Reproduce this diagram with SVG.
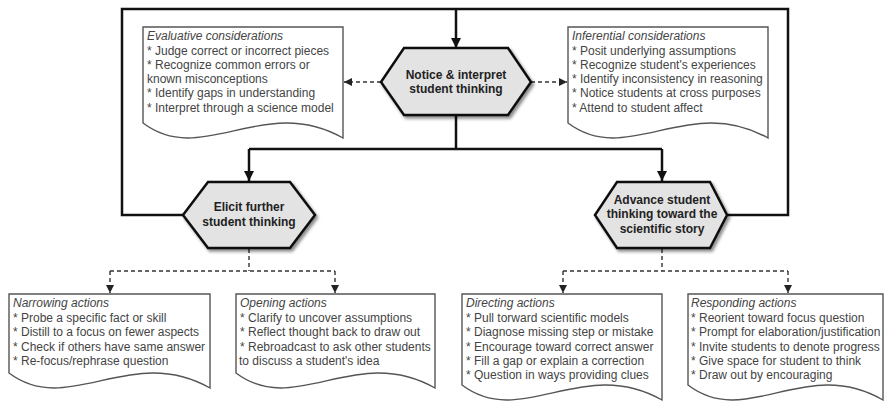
<svg xmlns="http://www.w3.org/2000/svg" width="884" height="401" viewBox="0 0 884 401">
<style>
.hex{fill:#e3e3e3;stroke:#111;stroke-width:2.5;stroke-linejoin:miter;filter:url(#sh)}
.ht{font-family:"Liberation Sans",Arial,sans-serif;font-size:12px;font-weight:bold;fill:#222;text-anchor:middle}
.doc{fill:#fff;stroke:#555;stroke-width:1.4}
.dt{font-family:"Liberation Sans",Arial,sans-serif;font-size:12px;fill:#444}
.dt .h{font-style:italic}
.solid{fill:none;stroke:#111;stroke-width:2.5}
.dash{fill:none;stroke:#333;stroke-width:1.4;stroke-dasharray:4 3}
</style>
<defs>
<filter id="sh" x="-20%" y="-20%" width="150%" height="150%"><feDropShadow dx="2" dy="2.5" stdDeviation="1.8" flood-color="#000" flood-opacity="0.45"/></filter>
<marker id="ah" viewBox="0 0 10 10" refX="10" refY="5" markerWidth="10" markerHeight="10" markerUnits="userSpaceOnUse" orient="auto"><path d="M0,0 L10,5 L0,10 Z" fill="#111"/></marker>
<marker id="ad" viewBox="0 0 10 10" refX="10" refY="5" markerWidth="9" markerHeight="8" markerUnits="userSpaceOnUse" orient="auto"><path d="M0,0 L10,5 L0,10 Z" fill="#222"/></marker>
</defs>
<rect width="884" height="401" fill="#fff"/>
<g id="connectors">
<path class="solid" d="M183,215 H122 V9 H788 V215 H727"/>
<path class="solid" d="M456,9 V48" marker-end="url(#ah)"/>
<path class="solid" d="M456,115 V149 M249,149 H662"/>
<path class="solid" d="M249,149 V181" marker-end="url(#ah)"/>
<path class="solid" d="M662,149 V181" marker-end="url(#ah)"/>
<path class="dash" d="M381,82 H344" marker-end="url(#ad)"/>
<path class="dash" d="M531,82 H567" marker-end="url(#ad)"/>
<path class="dash" d="M249,249 V271 M110,271 H335"/>
<path class="dash" d="M110,271 V293" marker-end="url(#ad)"/>
<path class="dash" d="M335,271 V293" marker-end="url(#ad)"/>
<path class="dash" d="M662,249 V271 M563,271 H788"/>
<path class="dash" d="M563,271 V293" marker-end="url(#ad)"/>
<path class="dash" d="M788,271 V293" marker-end="url(#ad)"/>
</g>
<g id="notice">
<polygon class="hex" points="404,48 508,48 531,82 508,115 404,115 381,82"/>
<text class="ht" x="456" y="78.5">Notice &amp; interpret</text>
<text class="ht" x="456" y="93">student thinking</text>
</g>
<g id="elicit">
<polygon class="hex" points="208,182 290,182 315,215 290,248 208,248 183,215"/>
<text class="ht" x="249" y="211">Elicit further</text>
<text class="ht" x="249" y="226">student thinking</text>
</g>
<g id="advance">
<polygon class="hex" points="617,182 710,182 727,215 710,248 617,248 595,215"/>
<text class="ht" x="662" y="204">Advance student</text>
<text class="ht" x="662" y="218">thinking toward the</text>
<text class="ht" x="662" y="233">scientific story</text>
</g>
<g id="evaluative">
<path class="doc" d="M143,27 H343 V138 C263,93 203,168 143,123 Z"/>
<text class="dt"><tspan class="h" x="147" y="40">Evaluative considerations</tspan><tspan x="147" y="55">* Judge correct or incorrect pieces</tspan><tspan x="147" y="69">* Recognize common errors or</tspan><tspan x="147" y="83">known misconceptions</tspan><tspan x="147" y="97">* Identify gaps in understanding</tspan><tspan x="147" y="112">* Interpret through a science model</tspan></text>
</g>
<g id="inferential">
<path class="doc" d="M568,27 H768 V138 C688,93 628,168 568,123 Z"/>
<text class="dt"><tspan class="h" x="572" y="40">Inferential considerations</tspan><tspan x="572" y="55">* Posit underlying assumptions</tspan><tspan x="572" y="69">* Recognize student's experiences</tspan><tspan x="572" y="83">* Identify inconsistency in reasoning</tspan><tspan x="572" y="97">* Notice students at cross purposes</tspan><tspan x="572" y="112">* Attend to student affect</tspan></text>
</g>
<g id="narrowing">
<path class="doc" d="M9,294 H210 V388 C130,343 69,418 9,373 Z"/>
<text class="dt"><tspan class="h" x="13" y="307">Narrowing actions</tspan><tspan x="13" y="322">* Probe a specific fact or skill</tspan><tspan x="13" y="336">* Distill to a focus on fewer aspects</tspan><tspan x="13" y="351">* Check if others have same answer</tspan><tspan x="13" y="365">* Re-focus/rephrase question</tspan></text>
</g>
<g id="opening">
<path class="doc" d="M236,294 H435 V388 C355,343 296,418 236,373 Z"/>
<text class="dt"><tspan class="h" x="240" y="307">Opening actions</tspan><tspan x="240" y="322">* Clarify to uncover assumptions</tspan><tspan x="240" y="336">* Reflect thought back to draw out</tspan><tspan x="240" y="351">* Rebroadcast to ask other students</tspan><tspan x="239" y="365">to discuss a student's idea</tspan></text>
</g>
<g id="directing">
<path class="doc" d="M462,294 H662 V400 C582,355 522,430 462,385 Z"/>
<text class="dt"><tspan class="h" x="466" y="307">Directing actions</tspan><tspan x="466" y="322">* Pull torward scientific models</tspan><tspan x="466" y="336">* Diagnose missing step or mistake</tspan><tspan x="466" y="351">* Encourage toward correct answer</tspan><tspan x="466" y="365">* Fill a gap or explain a correction</tspan><tspan x="466" y="379">* Question in ways providing clues</tspan></text>
</g>
<g id="responding">
<path class="doc" d="M688,294 H883 V400 C805,355 747,430 688,385 Z"/>
<text class="dt"><tspan class="h" x="691" y="307">Responding actions</tspan><tspan x="691" y="322">* Reorient toward focus question</tspan><tspan x="691" y="336">* Prompt for elaboration/justification</tspan><tspan x="691" y="351">* Invite students to denote progress</tspan><tspan x="691" y="365">* Give space for student to think</tspan><tspan x="691" y="379">* Draw out by encouraging</tspan></text>
</g>
</svg>
